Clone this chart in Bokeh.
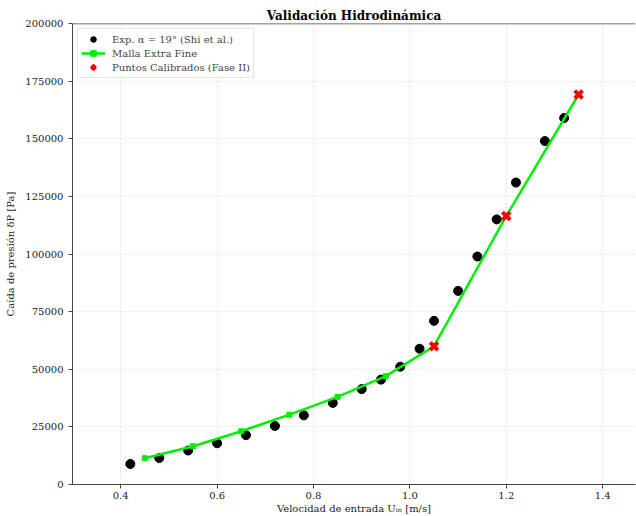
from bokeh.plotting import figure
from bokeh.models import Range1d, FixedTicker, PrintfTickFormatter, BasicTickFormatter, Span, Legend, LegendItem
from bokeh.embed import file_html
from bokeh.resources import INLINE

# Experimental data (Shi et al.)
exp_u = [0.42, 0.48, 0.54, 0.60, 0.66, 0.72, 0.78, 0.84, 0.90, 0.94, 0.98, 1.02, 1.05, 1.10, 1.14, 1.18, 1.22, 1.28, 1.32]
exp_dp = [8900, 11500, 14750, 17900, 21400, 25400, 30000, 35400, 41400, 45500, 51100, 58900, 71000, 84000, 98900, 115000, 131000, 149000, 159000]

# Simulation - Malla Extra Fine
sim_u = [0.45, 0.55, 0.65, 0.75, 0.85, 0.95, 1.05, 1.20, 1.35]
sim_dp = [11400, 16600, 23100, 30300, 38000, 47000, 60000, 116500, 169200]

# Calibrated points (Fase II)
cal_u = [1.05, 1.20, 1.35]
cal_dp = [60000, 116500, 169200]

x_ticks = [0.4, 0.6, 0.8, 1.0, 1.2, 1.4]
y_ticks = [0, 25000, 50000, 75000, 100000, 125000, 150000, 175000, 200000]

FONT = "DejaVu Serif"

p = figure(width=636, height=516, output_backend="svg", toolbar_location=None,
           x_range=Range1d(0.3, 1.468), y_range=Range1d(0, 200000),
           min_border_left=72, min_border_right=1, min_border_top=23, min_border_bottom=32,
           title="Validación Hidrodinámica")
p.outline_line_color = None
p.background_fill_color = "white"
p.border_fill_color = "white"

p.title.align = "center"
p.title.text_font = FONT
p.title.text_font_size = "12px"
p.title.text_font_style = "bold"
p.title.text_color = "#000000"
p.title.offset = 0
p.title.standoff = 2

for ax in (p.xaxis[0], p.yaxis[0]):
    ax.axis_line_color = "#444444"
    ax.axis_line_width = 1
    ax.major_tick_line_color = "#444444"
    ax.major_tick_in = 0
    ax.major_tick_out = 4
    ax.minor_tick_line_color = None
    ax.major_label_text_font = FONT
    ax.major_label_text_font_size = "10px"
    ax.major_label_text_color = "#222222"
    ax.axis_label_text_font = FONT
    ax.axis_label_text_font_size = "10px"
    ax.axis_label_text_font_style = "normal"
    ax.axis_label_text_color = "#222222"

p.xaxis.ticker = FixedTicker(ticks=x_ticks)
p.xaxis.formatter = PrintfTickFormatter(format="%.1f")
p.yaxis.ticker = FixedTicker(ticks=y_ticks)
p.yaxis.formatter = BasicTickFormatter(use_scientific=False)
p.xaxis.axis_label = "Velocidad de entrada Uᵢₙ [m/s]"
p.yaxis.axis_label = "Caída de presión δP [Pa]"
p.xaxis.axis_label_standoff = 1
p.yaxis.axis_label_standoff = 6
p.xaxis.major_label_standoff = 3

for g in (p.xgrid[0], p.ygrid[0]):
    g.grid_line_color = "#e2e2e2"
    g.grid_line_dash = "2 2"
    g.grid_line_width = 1

top = Span(location=200000, dimension="width", line_color="#444444", line_width=1.5)
p.add_layout(top)

r_exp = p.scatter(exp_u, exp_dp, marker="circle", size=9, fill_color="black", line_color="black")
r_line = p.line(sim_u, sim_dp, line_color="#00ee00", line_width=2.5)
r_sq = p.scatter(sim_u, sim_dp, marker="square", size=5, fill_color="#00ee00", line_color="#00ee00")
r_cal = p.scatter(cal_u, cal_dp, marker="x", size=11, line_color="#ff0000", line_width=4)

legend = Legend(items=[
    LegendItem(label="Exp. α = 19° (Shi et al.)", renderers=[r_exp]),
    LegendItem(label="Malla Extra Fine", renderers=[r_line, r_sq]),
    LegendItem(label="Puntos Calibrados (Fase II)", renderers=[r_cal]),
], location="top_left")
legend.margin = 5
legend.padding = 3
legend.spacing = 0
legend.label_text_font = FONT
legend.label_text_font_size = "10px"
legend.label_height = 14
legend.glyph_height = 14
legend.glyph_width = 24
legend.label_standoff = 7
legend.border_line_color = "#cccccc"
legend.border_line_width = 1
legend.background_fill_alpha = 1
p.add_layout(legend)

open("out.html", "w").write(file_html(p, INLINE))
